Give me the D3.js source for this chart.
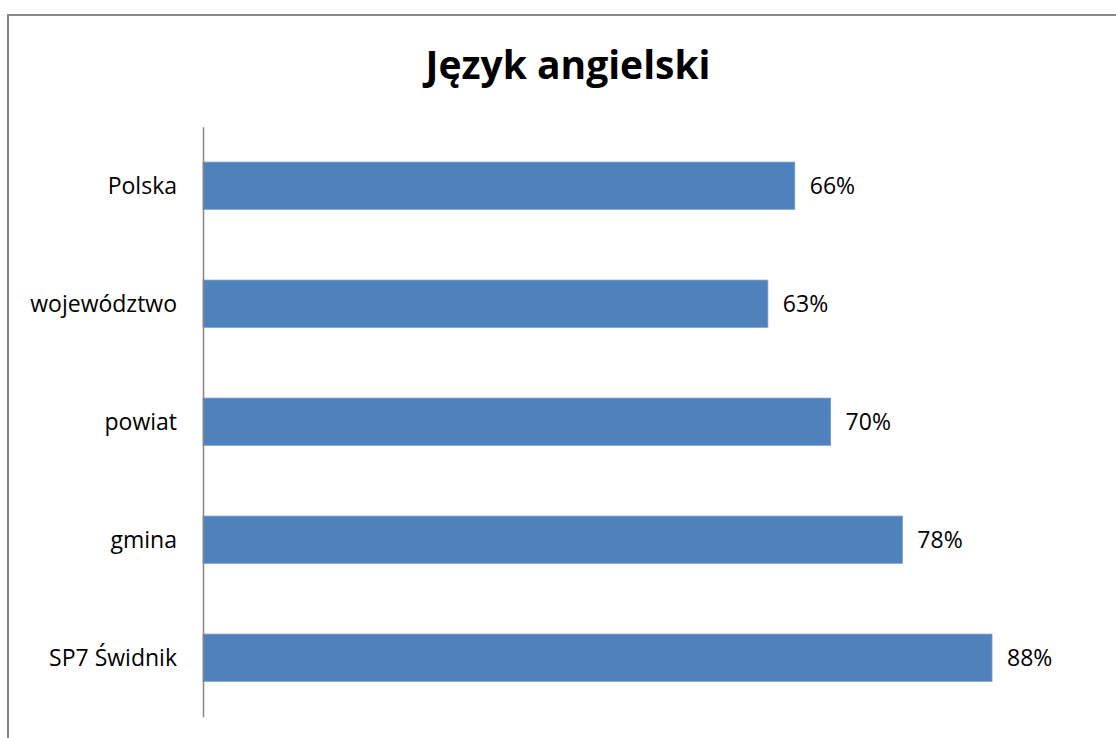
<!DOCTYPE html>
<html><head><meta charset="utf-8">
<script src="https://cdn.jsdelivr.net/npm/d3@7"></script>
<style>html,body{margin:0;padding:0;background:#fff;}svg{display:block;}</style>
</head><body>
<script>
const title = "Język angielski";
const categories = ["Polska", "województwo", "powiat", "gmina", "SP7 Świdnik"];
const values = [0.66, 0.63, 0.70, 0.78, 0.88];
const valueLabels = ["66%", "63%", "70%", "78%", "88%"];

const W = 1116, H = 738;
const svg = d3.select("body").append("svg").attr("width", W).attr("height", H);

svg.append("rect").attr("x", 8).attr("y", 15).attr("width", W + 20).attr("height", H + 20)
  .attr("fill", "#fff").attr("stroke", "#878787").attr("stroke-width", 2);

const x = d3.scaleLinear().domain([0, 1]).range([203, 1099.6]);
const y = d3.scaleBand().domain(categories).range([126.7, 716.7]).paddingInner(0.6).paddingOuter(0.3);

svg.append("text").attr("x", 568).attr("y", 79).attr("text-anchor", "middle")
  .attr("font-family", "'Open Sans', sans-serif").attr("font-weight", "bold").attr("font-size", 39)
  .attr("fill", "#000").text(title);

const data = categories.map((c, i) => ({c, v: values[i], l: valueLabels[i]}));

svg.selectAll("rect.bar").data(data).join("rect").attr("class", "bar")
  .attr("x", x(0)).attr("y", d => y(d.c)).attr("width", d => x(d.v) - x(0)).attr("height", y.bandwidth())
  .attr("fill", "#4F81BD").attr("stroke", "#7399c9").attr("stroke-width", 0.8);

svg.selectAll("text.val").data(data).join("text").attr("class", "val")
  .attr("x", d => x(d.v) + 15).attr("y", d => y(d.c) + y.bandwidth() / 2).attr("dy", "0.36em")
  .attr("font-family", "'Open Sans', sans-serif").attr("font-size", 23).attr("fill", "#000").text(d => d.l);

const yAxis = d3.axisLeft(y).tickSize(0).tickPadding(26);
const ga = svg.append("g").attr("transform", `translate(${x(0)},0)`).call(yAxis);
ga.select(".domain").attr("stroke", "#868686").attr("stroke-width", 1.5);
ga.selectAll("text").attr("font-family", "'Open Sans', sans-serif").attr("font-size", 23).attr("fill", "#000").attr("dy", "0.36em");
</script>
</body></html>
